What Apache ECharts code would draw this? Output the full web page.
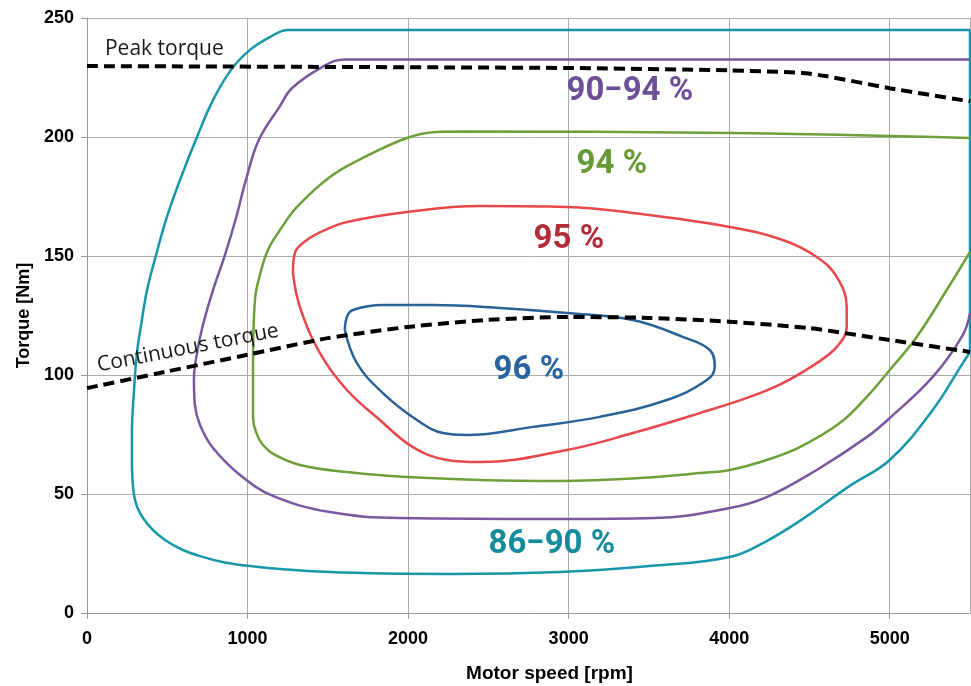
<!DOCTYPE html>
<html>
<head>
<meta charset="utf-8">
<script src="https://cdn.jsdelivr.net/npm/echarts@6/dist/echarts.min.js"></script>
<style>
  html, body { margin: 0; padding: 0; background: #ffffff; }
  #chart { width: 971px; height: 686px; }
</style>
</head>
<body>
<div id="chart"></div>
<script>
// Motor efficiency map: iso-efficiency contours over speed [rpm] and torque [Nm]

const speedTicks = [0, 1000, 2000, 3000, 4000, 5000];
const speedMax = 5500;
const torqueTicks = [0, 50, 100, 150, 200, 250];

// 86–90 % contour (traced along the lower edge, up the left flank, across the top)
const eff86 = [
  [5500, 109.7], [5455, 105.0], [5268, 85.3], [5000, 64.3], [4751, 53.4],
  [4440, 38.7], [4222, 29.8], [4004, 23.5], [3506, 19.7], [2945, 17.2],
  [2260, 16.4], [1513, 17.2], [1015, 19.7], [704, 23.9], [486, 30.7],
  [349, 39.9], [293, 49.6], [280, 64.3], [280, 75.6], [293, 93.7],
  [311, 109.2], [342, 123.1], [374, 135.7], [430, 150.4], [498, 166.4],
  [579, 181.9], [685, 200.0], [785, 215.5], [897, 228.2], [1015, 236.6],
  [1139, 242.0], [1252, 245.0], [5500, 245.0]
];
// short closing edge of the 86–90 % region along the speed limit
const eff86Edge = [[5500, 245.0], [5500, 109.7]];

// 90–94 % contour
const eff90 = [
  [5500, 232.6], [1606, 232.6], [1470, 229.6], [1276, 220.5],
  [1202, 213.0], [1070, 198.7], [990, 182.0], [930, 166.4], [859, 150.4],
  [785, 135.7], [722, 121.0], [685, 109.2], [666, 97.9], [672, 87.4],
  [704, 79.0], [785, 69.3], [953, 58.0], [1158, 49.2], [1513, 42.4],
  [1949, 39.9], [2945, 39.5], [3537, 39.9], [4004, 44.1], [4234, 48.7],
  [4545, 60.1], [4857, 73.9], [5000, 81.9], [5268, 99.2], [5455, 116.8],
  [5500, 126.1]
];

// 94 % contour
const eff94 = [
  [5500, 199.6], [4004, 201.7], [2341, 202.3], [2179, 202.1],
  [1993, 199.6], [1719, 191.2], [1513, 183.2], [1308, 170.6], [1202, 160.9],
  [1127, 152.5], [1077, 142.0], [1046, 131.5], [1034, 103.4],
  [1034, 82.4], [1052, 76.1], [1096, 70.6], [1171, 66.4], [1326, 62.2],
  [1619, 59.2], [1993, 57.1], [2447, 55.9], [2945, 55.5], [3443, 56.7],
  [3817, 58.8], [4004, 60.1], [4234, 64.3], [4440, 69.7], [4689, 79.8],
  [4857, 90.8], [5000, 102.1], [5168, 116.0], [5355, 135.7], [5500, 151.7]
];

// 95 % contour (closed)
const eff95 = [
  [1283, 142.9], [1295, 151.3], [1370, 156.7], [1482, 160.9], [1619, 164.3],
  [1993, 168.5], [2447, 171.0], [2989, 170.6], [3400, 168.1], [4004, 162.2],
  [4334, 156.7], [4545, 149.6], [4670, 141.2], [4732, 128.6], [4732, 120.2],
  [4670, 111.8], [4545, 105.0], [4334, 96.6], [4128, 90.8], [3817, 84.0],
  [3400, 75.6], [2989, 68.5], [2447, 63.4], [2242, 64.3], [2030, 69.7],
  [1824, 81.1], [1619, 93.7], [1451, 109.2], [1326, 128.6], [1283, 142.9]
];

// 96 % contour (closed)
const eff96 = [
  [1606, 118.9], [1619, 124.4], [1656, 127.3], [1843, 129.4], [2154, 129.4],
  [2572, 128.2], [2989, 126.1], [3400, 123.1], [3711, 116.0], [3879, 110.5],
  [3910, 103.4], [3861, 97.9], [3611, 89.5], [3194, 82.4], [2777, 78.2],
  [2366, 74.8], [2217, 75.6], [2055, 81.1], [1843, 92.4], [1681, 105.0],
  [1606, 118.9]
];

// torque limits
const peakTorque = [
  [0, 229.8], [3000, 229.0], [4000, 228.0], [4450, 227.0], [4600, 225.6],
  [5000, 220.5], [5500, 215.0]
];
const continuousTorque = [
  [0, 94.5], [500, 101.5], [1000, 108.5], [1500, 115.5], [2000, 120.2],
  [2500, 123.2], [3000, 124.4], [3500, 124.0], [4000, 122.4], [4500, 119.7],
  [5000, 114.7], [5500, 109.7]
];

const C = {
  teal: '#1797aa', purple: '#7a58a0', green: '#6ea03a', red: '#e8474b', blue: '#2a6298',
  grid: '#ababab', axis: '#999999'
};
const tickFont = { fontFamily: 'Liberation Sans, Arial, sans-serif', fontWeight: 'bold', fontSize: 18, color: '#000' };

function contour(name, data, color, smooth) {
  return {
    name, type: 'line', data, showSymbol: false, smooth: smooth === undefined ? 0.4 : smooth,
    lineStyle: { color, width: 2.5 }, silent: true, z: 2
  };
}
function limit(name, data) {
  return {
    name, type: 'line', data, showSymbol: false, smooth: 0.2,
    lineStyle: { color: '#000', width: 4, type: [11, 6] }, silent: true, z: 3
  };
}

const chart = echarts.init(document.getElementById('chart'), null, { renderer: 'canvas' });

chart.setOption({
  animation: false,
  backgroundColor: '#ffffff',
  grid: { left: 87, right: 1, top: 18, bottom: 73, containLabel: false, outerBoundsMode: 'none' },
  xAxis: {
    type: 'value', min: speedTicks[0], max: speedMax, interval: speedTicks[1] - speedTicks[0],
    name: 'Motor speed [rpm]', nameLocation: 'middle', nameGap: 51,
    nameTextStyle: Object.assign({}, tickFont, { fontSize: 19, padding: [0, 0, 0, 42] }),
    axisLine: { show: true, lineStyle: { color: C.axis, width: 1 } },
    axisTick: { show: true, length: 6, lineStyle: { color: C.axis } },
    axisLabel: Object.assign({ margin: 17, showMaxLabel: false, formatter: v => String(v) }, tickFont),
    splitLine: { show: true, lineStyle: { color: C.grid, width: 1 } }
  },
  yAxis: {
    type: 'value', min: torqueTicks[0], max: torqueTicks[torqueTicks.length - 1],
    interval: torqueTicks[1] - torqueTicks[0],
    name: 'Torque [Nm]', nameLocation: 'middle', nameGap: 47,
    nameTextStyle: tickFont,
    axisLine: { show: true, lineStyle: { color: C.axis, width: 1 } },
    axisTick: { show: true, length: 6, lineStyle: { color: C.axis } },
    axisLabel: Object.assign({ margin: 13 }, tickFont),
    splitLine: { show: true, lineStyle: { color: C.grid, width: 1 } }
  },
  series: [
    contour('86–90 %', eff86, C.teal),
    contour('86–90 % edge', eff86Edge, C.teal, false),
    contour('90–94 %', eff90, C.purple),
    contour('94 %', eff94, C.green),
    contour('95 %', eff95, C.red),
    contour('96 %', eff96, C.blue),
    limit('Peak torque', peakTorque),
    limit('Continuous torque', continuousTorque)
  ]
});

// annotations anchored in data space
const pctFont = 'Roboto, Liberation Sans, sans-serif';
const notes = [
  { text: '90−94 %', at: [3381, 218.9], color: '#6e5096' },
  { text: '94 %', at: [3269, 188.2], color: '#659a34' },
  { text: '95 %', at: [3001, 156.7], color: '#b22d37' },
  { text: '96 %', at: [2752, 101.7], color: '#2a64a0' },
  { text: '86−90 %', at: [2895, 28.6], color: '#148c9b' }
];
const graphic = notes.map(n => {
  const p = chart.convertToPixel({ gridIndex: 0 }, n.at);
  return {
    type: 'text', x: p[0], y: p[1], z: 10, silent: true,
    style: { text: n.text, fill: n.color, fontSize: 33, fontWeight: 'bold', fontFamily: pctFont,
             align: 'center', verticalAlign: 'middle' }
  };
});
const peakAt = chart.convertToPixel({ gridIndex: 0 }, [112, 237.0]);
graphic.push({
  type: 'text', x: peakAt[0], y: peakAt[1], z: 10, silent: true,
  style: { text: 'Peak torque', fill: '#1a1a1a', fontSize: 21, fontFamily: 'Open Sans, sans-serif',
           align: 'left', verticalAlign: 'middle' }
});
const contAt = chart.convertToPixel({ gridIndex: 0 }, [629, 111.3]);
graphic.push({
  type: 'text', x: contAt[0], y: contAt[1], z: 10, silent: true, rotation: 11 * Math.PI / 180,
  style: { text: 'Continuous torque', fill: '#1a1a1a', fontSize: 21, fontFamily: 'Open Sans, sans-serif',
           align: 'center', verticalAlign: 'middle' }
});
chart.setOption({ graphic });
</script>
</body>
</html>
